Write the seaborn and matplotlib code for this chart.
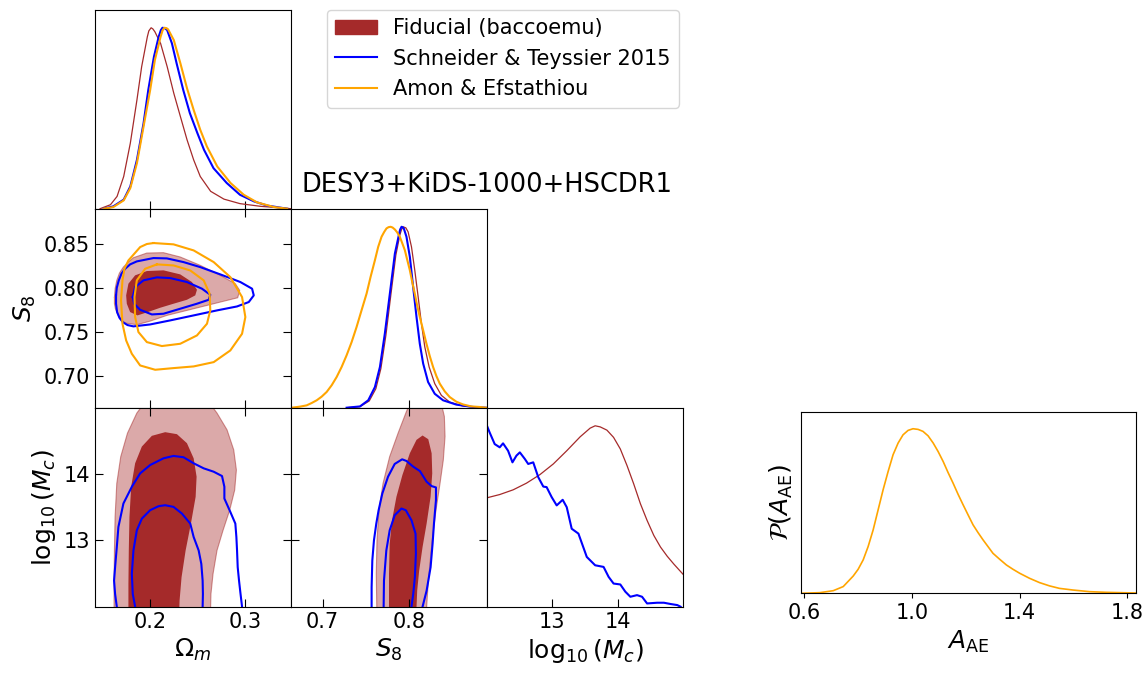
import numpy as np
import matplotlib
matplotlib.use("Agg")
import matplotlib.pyplot as plt
import seaborn as sns
from matplotlib.patches import Patch
from matplotlib.lines import Line2D

# ------------------------------------------------------------------ data
# parameter ranges / ticks
om_lim = (0.1417, 0.349)
s8_lim = (0.6634, 0.890)
mc_lim = (12.0, 15.0)
aae_lim = (0.588, 1.831)
om_ticks = [0.2, 0.3]
s8_xticks = [0.7, 0.8]
s8_yticks = [0.70, 0.75, 0.80, 0.85]
mc_ticks = [13, 14]
aae_ticks = [0.6, 1.0, 1.4, 1.8]

labels = ["Fiducial (baccoemu)", "Schneider & Teyssier 2015", "Amon & Efstathiou"]
title = "DESY3+KiDS-1000+HSCDR1"

# 1D marginals (peak normalised to 1)
om_fid_x = [0.147, 0.158, 0.165, 0.172, 0.179, 0.186, 0.191, 0.197, 0.1986, 0.201, 0.2028, 0.205, 0.211,
            0.218, 0.225, 0.232, 0.239, 0.246, 0.253, 0.264, 0.278, 0.295, 0.317, 0.349]
om_fid_p = [0.0, 0.022, 0.068, 0.178, 0.362, 0.601, 0.785, 0.950, 0.983, 1.0, 0.994, 0.978, 0.914,
            0.785, 0.638, 0.509, 0.381, 0.270, 0.178, 0.096, 0.053, 0.028, 0.013, 0.0]
om_st_x = [0.151, 0.161, 0.172, 0.179, 0.186, 0.193, 0.198, 0.204, 0.209, 0.2113, 0.213, 0.2155, 0.218,
           0.223, 0.228, 0.235, 0.242, 0.250, 0.257, 0.267, 0.281, 0.295, 0.310, 0.324, 0.345]
om_st_p = [0.0, 0.013, 0.050, 0.123, 0.270, 0.472, 0.656, 0.840, 0.950, 0.987, 1.0, 0.998, 0.987,
           0.914, 0.803, 0.656, 0.528, 0.417, 0.325, 0.224, 0.142, 0.077, 0.040, 0.017, 0.0]
om_ae_x = [0.151, 0.161, 0.172, 0.179, 0.186, 0.193, 0.200, 0.205, 0.211, 0.2131, 0.215, 0.2173, 0.219,
           0.225, 0.232, 0.239, 0.246, 0.253, 0.260, 0.271, 0.285, 0.299, 0.313, 0.331, 0.345]
om_ae_p = [0.0, 0.009, 0.046, 0.114, 0.252, 0.454, 0.656, 0.822, 0.950, 0.985, 1.0, 0.998, 0.991,
           0.932, 0.803, 0.665, 0.546, 0.436, 0.344, 0.233, 0.142, 0.077, 0.035, 0.009, 0.0]

s8_fid_x = [0.7277, 0.7431, 0.7538, 0.7615, 0.7673, 0.7731, 0.7788, 0.7846, 0.7892, 0.7912, 0.7931, 0.7962,
            0.7988, 0.8027, 0.8065, 0.8104, 0.8142, 0.8181, 0.8231, 0.8296, 0.8373, 0.8469, 0.8623, 0.8815]
s8_fid_p = [0.0, 0.006, 0.037, 0.105, 0.216, 0.400, 0.622, 0.843, 0.954, 0.985, 1.0, 0.994,
            0.972, 0.889, 0.760, 0.613, 0.465, 0.336, 0.225, 0.133, 0.068, 0.031, 0.009, 0.002]
s8_st_x = [0.7277, 0.7431, 0.7527, 0.7604, 0.7662, 0.7719, 0.7777, 0.7835, 0.7885, 0.7896, 0.7912, 0.7923,
           0.7938, 0.7969, 0.8008, 0.8046, 0.8085, 0.8123, 0.8162, 0.8219, 0.8296, 0.8392, 0.8546, 0.8738,
           0.8892]
s8_st_p = [0.0, 0.007, 0.041, 0.114, 0.225, 0.410, 0.631, 0.852, 0.963, 0.985, 1.0, 0.998,
           0.991, 0.945, 0.834, 0.668, 0.502, 0.354, 0.244, 0.142, 0.077, 0.041, 0.017, 0.004,
           0.0]
s8_ae_x = [0.6642, 0.6739, 0.6815, 0.6873, 0.6931, 0.6988, 0.7046, 0.7104, 0.7162, 0.7219, 0.7277, 0.7335,
           0.7392, 0.7450, 0.7508, 0.7554, 0.7604, 0.7642, 0.7681, 0.7712, 0.7738, 0.7762, 0.7785, 0.7808,
           0.7835, 0.7862, 0.7892, 0.7919, 0.7950, 0.7977, 0.8008, 0.8035, 0.8065, 0.8092, 0.8123, 0.8162,
           0.8200, 0.8238, 0.8277, 0.8315, 0.8354, 0.8412, 0.8469, 0.8546, 0.8623, 0.8719, 0.8815, 0.8892]
s8_ae_p = [0.0, 0.006, 0.013, 0.026, 0.041, 0.061, 0.087, 0.124, 0.170, 0.225, 0.290, 0.363,
           0.446, 0.539, 0.631, 0.723, 0.815, 0.889, 0.945, 0.972, 0.991, 0.998, 1.0, 0.996,
           0.985, 0.969, 0.945, 0.911, 0.871, 0.819, 0.760, 0.696, 0.631, 0.566, 0.502, 0.428,
           0.354, 0.286, 0.225, 0.175, 0.133, 0.090, 0.059, 0.033, 0.018, 0.007, 0.004, 0.0]

mc_fid_x = [12.0, 12.195, 12.4, 12.605, 12.81, 13.015, 13.221, 13.426, 13.579, 13.656, 13.733, 13.836,
            13.938, 14.041, 14.144, 14.246, 14.349, 14.451, 14.554, 14.656, 14.759, 14.862, 15.0]
mc_fid_p = [0.602, 0.620, 0.646, 0.683, 0.730, 0.789, 0.862, 0.939, 0.987, 1.0, 0.994, 0.976,
            0.936, 0.872, 0.780, 0.679, 0.569, 0.477, 0.394, 0.330, 0.279, 0.235, 0.180]
mc_st_x = [12.0, 12.041, 12.118, 12.195, 12.246, 12.323, 12.390, 12.451, 12.503, 12.579,
           12.631, 12.708, 12.785, 12.862, 12.913, 12.990, 13.067, 13.159, 13.221, 13.297,
           13.4, 13.528, 13.656, 13.785, 13.862, 13.938, 14.041, 14.118, 14.195, 14.297,
           14.374, 14.451, 14.605, 14.708, 14.810, 14.913, 14.964]
mc_st_p = [1.0, 0.963, 0.899, 0.881, 0.903, 0.862, 0.798, 0.835, 0.853, 0.817,
           0.789, 0.798, 0.716, 0.664, 0.661, 0.606, 0.560, 0.591, 0.550, 0.431,
           0.404, 0.275, 0.229, 0.220, 0.165, 0.128, 0.123, 0.083, 0.055, 0.064,
           0.055, 0.018, 0.022, 0.022, 0.015, 0.009, 0.0]

aae_x = [0.588, 0.658, 0.708, 0.745, 0.782, 0.8003, 0.819, 0.8374, 0.856, 0.8745, 0.893, 0.9116, 0.930,
         0.9487, 0.967, 0.9858, 1.004, 1.0229, 1.041, 1.060, 1.079, 1.0971, 1.116, 1.1342, 1.153, 1.1713,
         1.190, 1.2084, 1.227, 1.2455, 1.264, 1.2825, 1.301, 1.3258, 1.351, 1.3753, 1.400, 1.4371, 1.474,
         1.5113, 1.548, 1.5979, 1.660, 1.7215, 1.829]
aae_p = [0.0, 0.004, 0.016, 0.041, 0.105, 0.146, 0.203, 0.284, 0.385, 0.507, 0.629, 0.740, 0.842,
         0.913, 0.963, 0.990, 1.0, 0.996, 0.984, 0.957, 0.913, 0.862, 0.801, 0.734, 0.669, 0.602,
         0.538, 0.477, 0.416, 0.369, 0.325, 0.284, 0.243, 0.207, 0.172, 0.146, 0.122, 0.091, 0.065,
         0.045, 0.030, 0.020, 0.010, 0.006, 0.002]

# 2D contours: (Omega_m, S8)
fid_om_s8_68_x = [0.1746, 0.1770, 0.1841, 0.1965, 0.2141, 0.2318, 0.2442, 0.2495, 0.2477, 0.2389,
                  0.2247, 0.2106, 0.1965, 0.1866, 0.1788, 0.1753]
fid_om_s8_68_y = [0.7913, 0.8046, 0.8141, 0.8190, 0.8198, 0.8152, 0.8065, 0.7977, 0.7913, 0.7863,
                  0.7818, 0.7772, 0.7719, 0.7685, 0.7723, 0.7818]
fid_om_s8_95_x = [0.1622, 0.1629, 0.1647, 0.1675, 0.1717, 0.1770, 0.1823, 0.1965, 0.2141, 0.2318, 0.2530,
                  0.2742, 0.2901, 0.2947, 0.2926, 0.2813, 0.2601, 0.2389, 0.2177, 0.2000, 0.1859, 0.1735,
                  0.1682, 0.1654, 0.1632, 0.1622]
fid_om_s8_95_y = [0.7890, 0.7989, 0.8084, 0.8167, 0.8236, 0.8293, 0.8342, 0.8395, 0.8399, 0.8350, 0.8255,
                  0.8141, 0.8046, 0.7970, 0.7886, 0.7856, 0.7799, 0.7742, 0.7685, 0.7620, 0.7579, 0.7598,
                  0.7643, 0.7704, 0.7761, 0.7818]
st_om_s8_95_x = [0.1639, 0.1647, 0.1668, 0.1696, 0.1735, 0.1788, 0.1859, 0.2035, 0.2177, 0.2353, 0.2530,
                 0.2742, 0.2954, 0.3078, 0.3096, 0.3043, 0.2919, 0.2707, 0.2460, 0.2212, 0.2000, 0.1823,
                 0.1760, 0.1710, 0.1675, 0.1650, 0.1639]
st_om_s8_95_y = [0.7913, 0.8000, 0.8084, 0.8159, 0.8216, 0.8266, 0.8300, 0.8338, 0.8334, 0.8292, 0.8235,
                 0.8152, 0.8065, 0.7989, 0.7913, 0.7837, 0.7787, 0.7742, 0.7685, 0.7628, 0.7582, 0.7560,
                 0.7575, 0.7609, 0.7658, 0.7723, 0.7818]
st_om_s8_68_x = [0.1816, 0.1841, 0.1929, 0.2071, 0.2212, 0.2389, 0.2548, 0.2636, 0.2619, 0.2495,
                 0.2318, 0.2141, 0.2018, 0.1894, 0.1830]
st_om_s8_68_y = [0.7894, 0.8008, 0.8084, 0.8118, 0.8110, 0.8065, 0.7989, 0.7920, 0.7863, 0.7818,
                 0.7761, 0.7704, 0.7696, 0.7749, 0.7818]
ae_om_s8_95_x = [0.2035, 0.2247, 0.2460, 0.2672, 0.2848, 0.2972, 0.3007, 0.2972, 0.2848, 0.2672, 0.2460,
                 0.2247, 0.2053, 0.1894, 0.1806, 0.1746, 0.1707, 0.1692, 0.1707, 0.1728, 0.1770, 0.1894,
                 0.1965]
ae_om_s8_95_y = [0.8509, 0.8494, 0.8425, 0.8292, 0.8121, 0.7894, 0.7666, 0.7476, 0.7286, 0.7153, 0.7104,
                 0.7085, 0.7066, 0.7115, 0.7248, 0.7400, 0.7590, 0.7856, 0.8084, 0.8216, 0.8311, 0.8463,
                 0.8498]
ae_om_s8_68_x = [0.2071, 0.2247, 0.2424, 0.2566, 0.2629, 0.2636, 0.2601, 0.2495, 0.2318, 0.2124,
                 0.1965, 0.1876, 0.1841, 0.1834, 0.1859, 0.1947]
ae_om_s8_68_y = [0.8266, 0.8254, 0.8197, 0.8084, 0.7932, 0.7742, 0.7590, 0.7457, 0.7362, 0.7336,
                 0.7381, 0.7495, 0.7666, 0.7894, 0.8084, 0.8216]

# 2D contours: (Omega_m, log10 Mc)
fid_om_mc_95_x = [0.1618, 0.1618, 0.1622, 0.1629, 0.1647, 0.1689, 0.1760, 0.1859, 0.1965, 0.2283, 0.2601,
                  0.2707, 0.2813, 0.2884, 0.2912, 0.2894, 0.2841, 0.2771, 0.2707, 0.2665, 0.2643, 0.2636]
fid_om_mc_95_y = [11.788, 12.343, 12.848, 13.354, 13.859, 14.263, 14.616, 14.919, 15.121, 15.247, 15.121,
                  14.919, 14.667, 14.364, 14.061, 13.758, 13.455, 13.152, 12.848, 12.495, 12.192, 11.788]
fid_om_mc_68_x = [0.1770, 0.1770, 0.1774, 0.1781, 0.1799, 0.1841, 0.1912, 0.2018, 0.2159, 0.2283,
                  0.2389, 0.2460, 0.2491, 0.2481, 0.2431, 0.2375, 0.2332, 0.2311, 0.2304]
fid_om_mc_68_y = [11.788, 12.343, 12.848, 13.354, 13.808, 14.162, 14.414, 14.576, 14.631, 14.601,
                  14.465, 14.237, 13.960, 13.657, 13.253, 12.848, 12.444, 12.091, 11.788]
st_om_mc_95_x = [0.1647, 0.1629, 0.1618, 0.1629, 0.1647, 0.1664, 0.1717, 0.1806, 0.1894, 0.2000,
                 0.2141, 0.2247, 0.2353, 0.2460, 0.2566, 0.2672, 0.2760, 0.2785, 0.2785, 0.2848,
                 0.2901, 0.2912, 0.2919, 0.2926, 0.2940, 0.2954, 0.2972]
st_om_mc_95_y = [12.0, 12.192, 12.394, 12.596, 12.899, 13.202, 13.556, 13.808, 14.010, 14.136,
                 14.237, 14.273, 14.253, 14.162, 14.086, 14.035, 13.970, 13.808, 13.631, 13.429,
                 13.253, 13.051, 12.848, 12.596, 12.394, 12.217, 12.0]
st_om_mc_68_x = [0.1841, 0.1816, 0.1806, 0.1823, 0.1859, 0.1912, 0.2000, 0.2088, 0.2159, 0.2247,
                 0.2336, 0.2424, 0.2460, 0.2513, 0.2541, 0.2555, 0.2558, 0.2555]
st_om_mc_68_y = [12.0, 12.192, 12.495, 12.848, 13.152, 13.328, 13.455, 13.515, 13.530, 13.505,
                 13.404, 13.253, 13.051, 12.848, 12.646, 12.394, 12.192, 12.0]

# 2D contours: (S8, log10 Mc)
fid_s8_mc_95_x = [0.7628, 0.7620, 0.7628, 0.7651, 0.7698, 0.7775, 0.7872, 0.7969, 0.8047, 0.8202, 0.8357,
                  0.8407, 0.8415, 0.8395, 0.8357, 0.8310, 0.8271, 0.8240, 0.8217, 0.8202, 0.8194]
fid_s8_mc_95_y = [11.788, 12.495, 13.0, 13.455, 13.859, 14.263, 14.616, 14.944, 15.172, 15.247, 15.146,
                  14.869, 14.566, 14.212, 13.859, 13.455, 13.051, 12.646, 12.293, 11.99, 11.788]
fid_s8_mc_68_x = [0.7767, 0.7767, 0.7775, 0.7802, 0.7853, 0.7922, 0.8008, 0.8085, 0.8155, 0.8221,
                  0.8260, 0.8267, 0.8248, 0.8202, 0.8155, 0.8116, 0.8093, 0.8085, 0.8081]
fid_s8_mc_68_y = [11.788, 12.495, 12.949, 13.303, 13.657, 13.985, 14.313, 14.515, 14.581, 14.525,
                  14.313, 14.010, 13.657, 13.253, 12.899, 12.545, 12.242, 11.99, 11.788]
st_s8_mc_95_x = [0.7566, 0.7566, 0.7574, 0.7593, 0.7620, 0.7647, 0.7690, 0.7756, 0.7833, 0.7919, 0.7969,
                 0.8047, 0.8124, 0.8202, 0.8260, 0.8310, 0.8310, 0.8287, 0.8271, 0.8248, 0.8202, 0.8155]
st_s8_mc_95_y = [12.0, 12.293, 12.697, 13.0, 13.253, 13.455, 13.707, 13.960, 14.152, 14.222, 14.197,
                 14.111, 14.045, 13.884, 13.818, 13.798, 13.606, 13.253, 12.949, 12.596, 12.242, 12.0]
st_s8_mc_68_x = [0.7705, 0.7709, 0.7736, 0.7775, 0.7833, 0.7911, 0.7961, 0.8027, 0.8074, 0.8078,
                 0.8066, 0.8047, 0.8027]
st_s8_mc_68_y = [12.0, 12.394, 12.848, 13.152, 13.379, 13.480, 13.455, 13.303, 13.101, 12.798,
                 12.444, 12.192, 12.0]

# ------------------------------------------------------------------ style
BROWN = "#a52a2a"
BLUE = "blue"
ORANGE = "orange"
TICK_FS = 15
LAB_FS = 18

plt.rcParams["font.family"] = ["DejaVu Sans"]
plt.rcParams["mathtext.fontset"] = "dejavusans"
plt.rcParams["lines.solid_joinstyle"] = "round"

fig = plt.figure(figsize=(11.48, 6.73), dpi=100)
colx = [0.0828, 0.2535, 0.4242]
w = 0.1707
h = 0.2957
rowy = [0.0985 + 2 * h, 0.0985 + h, 0.0985]


def mk(r, c):
    return fig.add_axes([colx[c], rowy[r], w, h])


def line(ax, x, y, color, lw, closed=False):
    x = list(x)
    y = list(y)
    if closed:
        x = x + x[:1]
        y = y + y[:1]
    sns.lineplot(x=x, y=y, sort=False, estimator=None, ax=ax, color=color, lw=lw)


def fill2(ax, x95, y95, x68, y68):
    ax.fill(x95, y95, facecolor=BROWN, alpha=0.4, edgecolor="none", lw=0)
    ax.plot(list(x95) + [x95[0]], list(y95) + [y95[0]], color=BROWN, alpha=0.5, lw=0.8)
    ax.fill(x68, y68, facecolor=BROWN, edgecolor="none", lw=0)


def diag_style(ax):
    ax.set_ylim(0, 1.1)
    ax.set_yticks([])
    ax.tick_params(axis="x", direction="in", length=6, top=False, bottom=True, labelbottom=False)


def twod_style(ax):
    ax.tick_params(direction="in", length=6, top=True, right=True, bottom=True, left=True,
                   labelbottom=False, labelleft=False, labelsize=TICK_FS)


# row 1, col 1: Omega_m marginal
ax11 = mk(0, 0)
line(ax11, om_fid_x, om_fid_p, BROWN, 0.9)
line(ax11, om_st_x, om_st_p, BLUE, 1.5)
line(ax11, om_ae_x, om_ae_p, ORANGE, 1.5)
ax11.set_xlim(*om_lim)
ax11.set_xticks(om_ticks)
diag_style(ax11)

# row 2, col 1: Omega_m vs S8
ax21 = mk(1, 0)
fill2(ax21, fid_om_s8_95_x, fid_om_s8_95_y, fid_om_s8_68_x, fid_om_s8_68_y)
line(ax21, st_om_s8_95_x, st_om_s8_95_y, BLUE, 1.5, closed=True)
line(ax21, st_om_s8_68_x, st_om_s8_68_y, BLUE, 1.5, closed=True)
line(ax21, ae_om_s8_95_x, ae_om_s8_95_y, ORANGE, 1.5, closed=True)
line(ax21, ae_om_s8_68_x, ae_om_s8_68_y, ORANGE, 1.5, closed=True)
ax21.set_xlim(*om_lim)
ax21.set_ylim(*s8_lim)
ax21.set_xticks(om_ticks)
ax21.set_yticks(s8_yticks)
twod_style(ax21)
ax21.tick_params(labelleft=True)
ax21.set_yticklabels(["0.70", "0.75", "0.80", "0.85"])
ax21.set_ylabel(r"$S_8$", fontsize=LAB_FS)

# row 2, col 2: S8 marginal
ax22 = mk(1, 1)
line(ax22, s8_fid_x, s8_fid_p, BROWN, 0.9)
line(ax22, s8_st_x, s8_st_p, BLUE, 1.5)
line(ax22, s8_ae_x, s8_ae_p, ORANGE, 1.5)
ax22.set_xlim(*s8_lim)
ax22.set_xticks(s8_xticks)
diag_style(ax22)

# row 3, col 1: Omega_m vs log Mc
ax31 = mk(2, 0)
fill2(ax31, fid_om_mc_95_x, fid_om_mc_95_y, fid_om_mc_68_x, fid_om_mc_68_y)
line(ax31, st_om_mc_95_x, st_om_mc_95_y, BLUE, 1.5)
line(ax31, st_om_mc_68_x, st_om_mc_68_y, BLUE, 1.5)
ax31.set_xlim(*om_lim)
ax31.set_ylim(*mc_lim)
ax31.set_xticks(om_ticks)
ax31.set_yticks(mc_ticks)
twod_style(ax31)
ax31.tick_params(labelleft=True, labelbottom=True)
ax31.set_xticklabels(["0.2", "0.3"])
ax31.set_yticklabels(["13", "14"])
ax31.set_xlabel(r"$\Omega_m$", fontsize=LAB_FS)
ax31.set_ylabel(r"$\log_{10}(M_c)$", fontsize=LAB_FS)

# row 3, col 2: S8 vs log Mc
ax32 = mk(2, 1)
fill2(ax32, fid_s8_mc_95_x, fid_s8_mc_95_y, fid_s8_mc_68_x, fid_s8_mc_68_y)
line(ax32, st_s8_mc_95_x, st_s8_mc_95_y, BLUE, 1.5)
line(ax32, st_s8_mc_68_x, st_s8_mc_68_y, BLUE, 1.5)
ax32.set_xlim(*s8_lim)
ax32.set_ylim(*mc_lim)
ax32.set_xticks(s8_xticks)
ax32.set_yticks(mc_ticks)
twod_style(ax32)
ax32.tick_params(labelbottom=True)
ax32.set_xticklabels(["0.7", "0.8"])
ax32.set_xlabel(r"$S_8$", fontsize=LAB_FS)
ax32.set_ylabel("")

# row 3, col 3: log Mc marginal
ax33 = mk(2, 2)
line(ax33, mc_fid_x, mc_fid_p, BROWN, 0.9)
line(ax33, mc_st_x, mc_st_p, BLUE, 1.5)
ax33.set_xlim(*mc_lim)
ax33.set_xticks(mc_ticks)
diag_style(ax33)
ax33.tick_params(labelbottom=True, labelsize=TICK_FS)
ax33.set_xticklabels(["13", "14"])
ax33.set_xlabel(r"$\log_{10}(M_c)$", fontsize=LAB_FS)

for ax in (ax11, ax22):
    ax.set_xlabel("")
    ax.set_ylabel("")

# extra panel: A_AE posterior
axe = fig.add_axes([0.6977, 0.1184, 0.2916, 0.269])
line(axe, aae_x, aae_p, ORANGE, 1.2)
axe.set_xlim(*aae_lim)
axe.set_ylim(0, 1.1)
axe.set_xticks(aae_ticks)
axe.set_xticklabels(["0.6", "1.0", "1.4", "1.8"])
axe.set_yticks([])
axe.tick_params(axis="x", labelsize=TICK_FS)
axe.set_xlabel(r"$A_{\rm AE}$", fontsize=LAB_FS)
axe.set_ylabel(r"$\mathcal{P}(A_{\rm AE})$", fontsize=LAB_FS)

# legend + title
handles = [Patch(facecolor=BROWN, edgecolor=BROWN),
           Line2D([], [], color=BLUE, lw=1.5),
           Line2D([], [], color=ORANGE, lw=1.5)]
fig.legend(handles, labels, loc="upper left", bbox_to_anchor=(0.2846, 0.9851),
           borderaxespad=0, fontsize=15)
fig.text(0.4242, 1 - 185 / 673, title, ha="center", va="center", fontsize=18.5)

fig.savefig("out.png", dpi=100)
